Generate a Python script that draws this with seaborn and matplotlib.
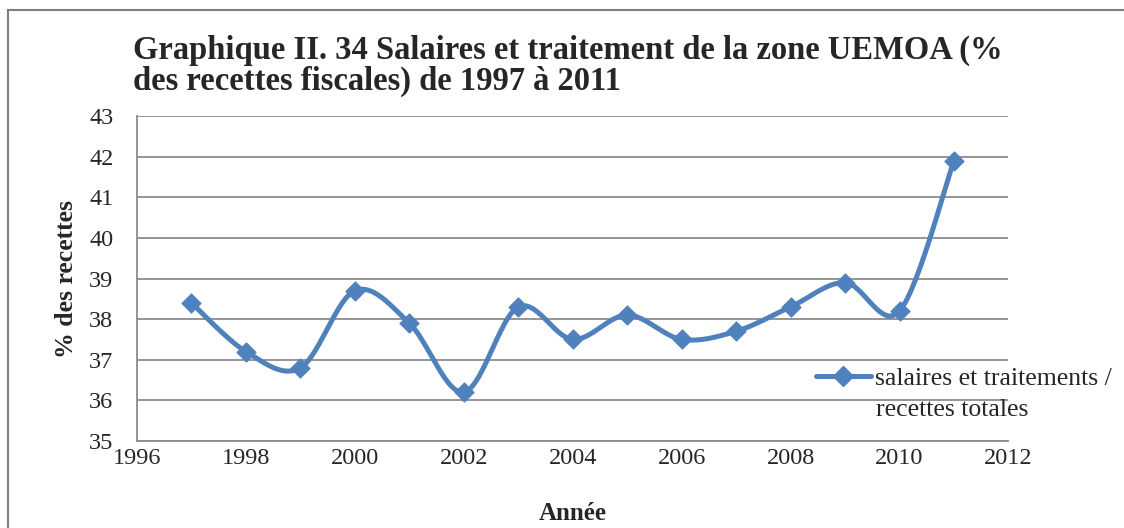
import numpy as np
import pandas as pd
import matplotlib
matplotlib.use("Agg")
import matplotlib.pyplot as plt
import seaborn as sns
from matplotlib.patches import Rectangle

# Données
annees = [1997, 1998, 1999, 2000, 2001, 2002, 2003, 2004, 2005, 2006, 2007, 2008, 2009, 2010, 2011]
ratio = [38.4, 37.2, 36.8, 38.7, 37.9, 36.2, 38.3, 37.5, 38.1, 37.5, 37.7, 38.3, 38.9, 38.2, 41.9]
serie_l1 = "salaires et traitements /"
serie_l2 = "recettes totales"
titre = "Graphique II. 34 Salaires et traitement de la zone UEMOA (%\ndes recettes fiscales) de 1997 à 2011"

BLEU = "#4F81BD"
GRIS = "#8C8C8C"


def lisser(x, y, n=30):
    """Courbe lissée façon Excel (Bezier type Catmull-Rom)."""
    x = np.asarray(x, float)
    y = np.asarray(y, float)
    px = np.concatenate([[x[0]], x, [x[-1]]])
    py = np.concatenate([[y[0]], y, [y[-1]]])
    xs, ys = [], []
    t = np.linspace(0, 1, n)
    for i in range(1, len(px) - 2):
        p0 = np.array([px[i], py[i]])
        p3 = np.array([px[i + 1], py[i + 1]])
        p1 = p0 + (np.array([px[i + 1], py[i + 1]]) - np.array([px[i - 1], py[i - 1]])) / 6
        p2 = p3 - (np.array([px[i + 2], py[i + 2]]) - np.array([px[i], py[i]])) / 6
        b = ((1 - t) ** 3)[:, None] * p0 + (3 * (1 - t) ** 2 * t)[:, None] * p1 \
            + (3 * (1 - t) * t ** 2)[:, None] * p2 + (t ** 3)[:, None] * p3
        xs.extend(b[:, 0])
        ys.extend(b[:, 1])
    return np.array(xs), np.array(ys)


df = pd.DataFrame({"Année": annees, "ratio": ratio})

sns.set_style("white")
plt.rcParams["font.family"] = ["Liberation Serif", "DejaVu Serif"]

fig = plt.figure(figsize=(11.24, 5.28), dpi=100)
ax = fig.add_axes([0.1219, 0.165, 0.7753, 0.615])

xs, ys = lisser(df["Année"], df["ratio"])
ax.plot(xs, ys, color=BLEU, lw=3.6, solid_capstyle="round", zorder=3)
sns.scatterplot(data=df, x="Année", y="ratio", marker="D", s=95, color=BLEU,
                edgecolor=BLEU, ax=ax, zorder=4, legend=False)

ax.set_xlim(1996, 2012)
ax.set_ylim(35, 43)
ax.set_xticks(range(1996, 2013, 2))
ax.set_yticks(range(35, 44))
ax.tick_params(axis="both", labelsize=17.5, length=0)
ax.tick_params(axis="x", pad=5)
ax.tick_params(axis="y", pad=17)
ax.yaxis.grid(True, color=GRIS, lw=1.3)
ax.xaxis.grid(False)
for cote in ["top", "right"]:
    ax.spines[cote].set_visible(False)
for cote in ["left", "bottom"]:
    ax.spines[cote].set_color(GRIS)
    ax.spines[cote].set_linewidth(1.3)

ax.set_xlabel("Année", fontsize=18, fontweight="bold", labelpad=24)
ax.set_ylabel("% des recettes", fontsize=18.5, fontweight="bold")
ax.yaxis.set_label_coords(-0.068, 0.5)

fig.text(0.118, 0.934, titre, fontsize=23.5, fontweight="bold", va="top", ha="left",
         linespacing=1.0)

# Légende (deuxième ligne du libellé ajoutée à part)
leg_ligne = plt.Line2D([], [], color=BLEU, lw=3.6, marker="D", markersize=10,
                       solid_capstyle="round")
leg = ax.legend([leg_ligne], [serie_l1], loc="center left",
                bbox_to_anchor=(0.779, (441 - 379) / 325), frameon=False,
                fontsize=18.5, handlelength=2.15, handletextpad=0.15,
                borderaxespad=0, borderpad=0)
ax.text(0.8475, (441 - 410) / 325, serie_l2, transform=ax.transAxes,
        fontsize=18.5, va="center", ha="left")

# Cadre du graphique
fig.patches.append(Rectangle((0.007, -0.05), 1.1, 1.031, transform=fig.transFigure,
                             fill=False, edgecolor="#7F7F7F", lw=1.5))

fig.savefig("out.png", dpi=100)
